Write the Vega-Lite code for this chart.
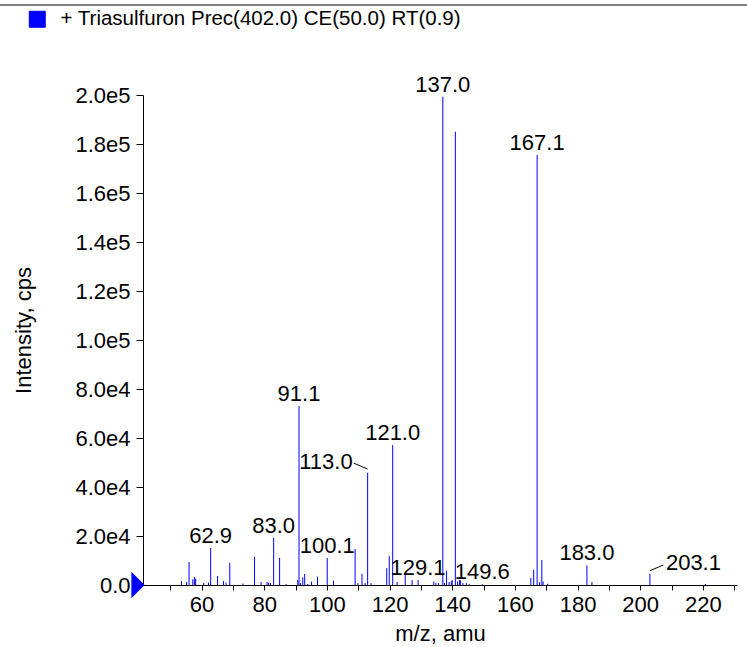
{
  "$schema": "https://vega.github.io/schema/vega-lite/v6.json",
  "width": 594,
  "height": 490,
  "autosize": {"type": "none"},
  "padding": {"left": 143, "top": 95, "right": 10, "bottom": 62},
  "background": "white",
  "config": {
    "view": {"stroke": null},
    "font": "Liberation Sans",
    "axis": {
      "grid": false,
      "domainColor": "black",
      "domainWidth": 1,
      "tickColor": "black",
      "labelColor": "black",
      "titleColor": "black",
      "labelFont": "Liberation Sans",
      "titleFont": "Liberation Sans",
      "labelFontSize": 22,
      "titleFontSize": 22,
      "titleFontWeight": "normal",
      "labelFlush": false
    }
  },
  "resolve": {"axis": {"x": "independent"}},
  "datasets": {
    "peaks": [
      {"mz": 53.6, "intensity": 1600}, {"mz": 55.2, "intensity": 1200}, {"mz": 56.0, "intensity": 9400},
      {"mz": 57.2, "intensity": 2300}, {"mz": 57.7, "intensity": 3200}, {"mz": 58.1, "intensity": 2600},
      {"mz": 60.7, "intensity": 800}, {"mz": 62.2, "intensity": 1000}, {"mz": 62.9, "intensity": 15100},
      {"mz": 65.1, "intensity": 3700}, {"mz": 67.0, "intensity": 1600}, {"mz": 67.8, "intensity": 1000},
      {"mz": 69.0, "intensity": 9100}, {"mz": 73.2, "intensity": 600}, {"mz": 76.9, "intensity": 11500},
      {"mz": 79.0, "intensity": 1200}, {"mz": 80.9, "intensity": 1200}, {"mz": 81.4, "intensity": 1000},
      {"mz": 82.0, "intensity": 800}, {"mz": 83.0, "intensity": 19200}, {"mz": 84.9, "intensity": 11100},
      {"mz": 87.0, "intensity": 400}, {"mz": 90.7, "intensity": 2000}, {"mz": 91.1, "intensity": 73100},
      {"mz": 91.6, "intensity": 800}, {"mz": 92.3, "intensity": 3100}, {"mz": 92.9, "intensity": 4500},
      {"mz": 93.9, "intensity": 400}, {"mz": 95.1, "intensity": 1400}, {"mz": 97.0, "intensity": 3400},
      {"mz": 100.1, "intensity": 11000}, {"mz": 102.1, "intensity": 1800}, {"mz": 109.0, "intensity": 14800},
      {"mz": 109.9, "intensity": 800}, {"mz": 111.2, "intensity": 4600}, {"mz": 112.2, "intensity": 800},
      {"mz": 113.0, "intensity": 45800}, {"mz": 114.1, "intensity": 800}, {"mz": 119.1, "intensity": 6900},
      {"mz": 119.9, "intensity": 11800}, {"mz": 121.0, "intensity": 57100}, {"mz": 122.4, "intensity": 1200},
      {"mz": 125.0, "intensity": 4500}, {"mz": 127.2, "intensity": 2000}, {"mz": 129.1, "intensity": 2000},
      {"mz": 134.1, "intensity": 1400}, {"mz": 134.8, "intensity": 800}, {"mz": 135.6, "intensity": 800},
      {"mz": 137.0, "intensity": 199300}, {"mz": 137.5, "intensity": 800}, {"mz": 138.2, "intensity": 5800},
      {"mz": 139.0, "intensity": 1200}, {"mz": 139.7, "intensity": 1600}, {"mz": 140.0, "intensity": 2000},
      {"mz": 141.0, "intensity": 185000}, {"mz": 141.7, "intensity": 1400}, {"mz": 142.3, "intensity": 2000},
      {"mz": 142.6, "intensity": 2000}, {"mz": 143.4, "intensity": 800}, {"mz": 144.5, "intensity": 800},
      {"mz": 145.4, "intensity": 400}, {"mz": 149.6, "intensity": 300}, {"mz": 165.1, "intensity": 2900},
      {"mz": 166.0, "intensity": 6200}, {"mz": 167.1, "intensity": 175500}, {"mz": 167.9, "intensity": 1200},
      {"mz": 168.6, "intensity": 10200}, {"mz": 169.0, "intensity": 1400}, {"mz": 170.5, "intensity": 500},
      {"mz": 183.0, "intensity": 8000}, {"mz": 184.6, "intensity": 1200}, {"mz": 203.1, "intensity": 4600},
      {"mz": 220.8, "intensity": 400}
    ],
    "labels": [
      {"mz": 137.0, "intensity": 199300, "label": "137.0"},
      {"mz": 167.1, "intensity": 175500, "label": "167.1"},
      {"mz": 91.1, "intensity": 73100, "label": "91.1"},
      {"mz": 121.0, "intensity": 57100, "label": "121.0"},
      {"mz": 113.0, "intensity": 45800, "label": "113.0"},
      {"mz": 62.9, "intensity": 15100, "label": "62.9"},
      {"mz": 83.0, "intensity": 19200, "label": "83.0"},
      {"mz": 100.1, "intensity": 11000, "label": "100.1"},
      {"mz": 129.1, "intensity": 2000, "label": "129.1"},
      {"mz": 149.6, "intensity": 300, "label": "149.6"},
      {"mz": 183.0, "intensity": 8000, "label": "183.0"},
      {"mz": 203.1, "intensity": 4600, "label": "203.1"}
    ]
  },
  "layer": [
    {
      "data": {"name": "peaks"},
      "mark": {"type": "rule", "strokeWidth": 1},
      "encoding": {
        "x": {
          "field": "mz", "type": "quantitative",
          "scale": {"domain": [41.3, 230.9], "nice": false, "zero": false},
          "axis": {
            "orient": "bottom",
            "values": [60, 80, 100, 120, 140, 160, 180, 200, 220],
            "format": "d",
            "labelOverlap": false,
            "tickSize": 5,
            "labelPadding": 4,
            "title": "m/z, amu",
            "titlePadding": 8
          }
        },
        "y": {
          "field": "intensity", "type": "quantitative",
          "scale": {"domain": [0, 200000], "nice": false},
          "axis": {
            "values": [0, 10000, 20000, 30000, 40000, 50000, 60000, 70000, 80000, 90000, 100000, 110000, 120000, 130000, 140000, 150000, 160000, 170000, 180000, 190000, 200000],
            "labelExpr": "datum.value % 20000 == 0 ? (datum.value == 0 ? '0.0' : replace(format(datum.value, '.1e'), 'e+', 'e')) : ''",
            "labelOverlap": false,
            "tickSize": {"condition": {"test": "datum.value % 20000 == 0", "value": 7}, "value": 4},
            "labelPadding": 6,
            "title": "Intensity, cps",
            "titleX": -120,
            "titleY": 235,
            "titleBaseline": "middle"
          }
        },
        "y2": {"datum": 0},
        "color": {
          "datum": "+ Triasulfuron Prec(402.0) CE(50.0) RT(0.9)",
          "type": "nominal",
          "scale": {"range": ["#0000ff"]},
          "legend": {
            "title": null,
            "orient": "none",
            "legendX": -116,
            "legendY": -86,
            "padding": 0,
            "symbolType": "square",
            "symbolSize": 256,
            "labelFontSize": 20.5,
            "labelFont": "Liberation Sans",
            "labelColor": "black",
            "labelOffset": 13,
            "labelLimit": 600,
            "encode": {"symbols": {"update": {"fill": {"value": "#0000ff"}, "stroke": {"value": "#00008b"}, "strokeWidth": {"value": 1}, "opacity": {"value": 1}}}}
          }
        }
      }
    },
    {
      "data": {"name": "labels"},
      "transform": [{"filter": "datum.label != '113.0' && datum.label != '203.1'"}],
      "mark": {"type": "text", "align": "center", "baseline": "alphabetic", "dy": -5, "fontSize": 22, "font": "Liberation Sans", "color": "black"},
      "encoding": {
        "x": {"field": "mz", "type": "quantitative", "axis": null},
        "y": {"field": "intensity", "type": "quantitative"},
        "text": {"field": "label"}
      }
    },
    {
      "data": {"name": "labels"},
      "transform": [{"filter": "datum.label == '113.0'"}],
      "mark": {"type": "text", "align": "right", "baseline": "alphabetic", "dx": -15, "dy": -4, "fontSize": 22, "font": "Liberation Sans", "color": "black"},
      "encoding": {
        "x": {"field": "mz", "type": "quantitative", "axis": null},
        "y": {"field": "intensity", "type": "quantitative"},
        "text": {"field": "label"}
      }
    },
    {
      "data": {"name": "labels"},
      "transform": [{"filter": "datum.label == '203.1'"}],
      "mark": {"type": "text", "align": "left", "baseline": "alphabetic", "dx": 16, "dy": -4, "fontSize": 22, "font": "Liberation Sans", "color": "black"},
      "encoding": {
        "x": {"field": "mz", "type": "quantitative", "axis": null},
        "y": {"field": "intensity", "type": "quantitative"},
        "text": {"field": "label"}
      }
    },
    {
      "data": {"name": "labels"},
      "transform": [{"filter": "datum.label == '113.0'"}],
      "mark": {"type": "rule", "color": "black", "strokeWidth": 1, "xOffset": -14, "yOffset": -9.7, "x2Offset": 0, "y2Offset": -3.7},
      "encoding": {
        "x": {"field": "mz", "type": "quantitative", "axis": null},
        "y": {"field": "intensity", "type": "quantitative"},
        "x2": {"field": "mz"},
        "y2": {"field": "intensity"}
      }
    },
    {
      "data": {"name": "labels"},
      "transform": [{"filter": "datum.label == '203.1'"}],
      "mark": {"type": "rule", "color": "black", "strokeWidth": 1, "xOffset": 0, "yOffset": -3, "x2Offset": 13.4, "y2Offset": -8.7},
      "encoding": {
        "x": {"field": "mz", "type": "quantitative", "axis": null},
        "y": {"field": "intensity", "type": "quantitative"},
        "x2": {"field": "mz"},
        "y2": {"field": "intensity"}
      }
    },
    {
      "data": {"values": [{"mz": 41.3, "intensity": 0}]},
      "mark": {"type": "point", "shape": "M-0.5,-1L0.5,0L-0.5,1Z", "size": 700, "filled": true, "color": "#0000ff", "opacity": 1, "xOffset": -5, "clip": false},
      "encoding": {
        "x": {
          "field": "mz", "type": "quantitative",
          "axis": {
            "orient": "bottom",
            "values": [50, 70, 90, 110, 130, 150, 170, 190, 210, 230],
            "labels": false,
            "tickSize": 5,
            "domain": false,
            "title": null
          }
        },
        "y": {"field": "intensity", "type": "quantitative"}
      }
    },
    {
      "data": {"values": [{"mz": -5, "mz2": 235, "intensity": 236700}]},
      "mark": {"type": "rule", "color": "#555555", "strokeWidth": 1.5, "clip": false},
      "encoding": {
        "x": {"field": "mz", "type": "quantitative", "axis": null},
        "x2": {"field": "mz2"},
        "y": {"field": "intensity", "type": "quantitative"}
      }
    }
  ]
}
